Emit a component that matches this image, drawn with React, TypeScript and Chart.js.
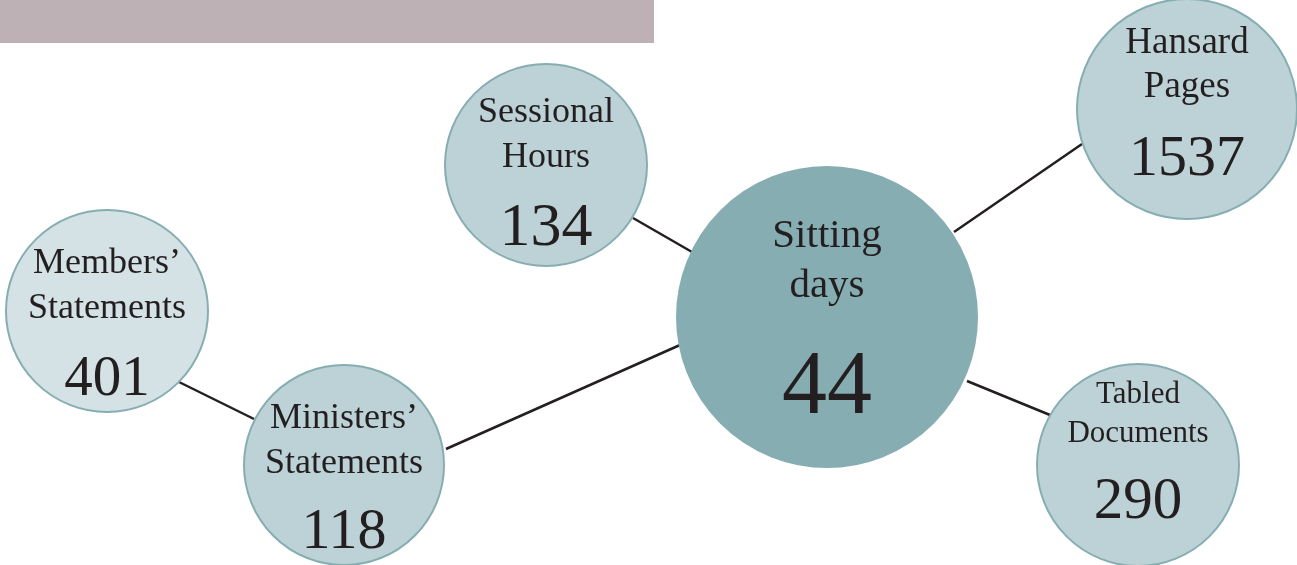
import React, { useEffect, useRef } from "react";
import { Chart, registerables } from "chart.js";

Chart.register(...registerables);

// ---- data ----
const nodeTitles: string[][] = [
  ["Sitting", "days"],
  ["Sessional", "Hours"],
  ["Hansard", "Pages"],
  ["Members’", "Statements"],
  ["Ministers’", "Statements"],
  ["Tabled", "Documents"],
];
const nodeValues: number[] = [44, 134, 1537, 401, 118, 290];
const nodeX: number[] = [827, 546, 1187, 107, 344, 1138];
const nodeY: number[] = [317, 165, 109, 311, 465, 465];
const nodeR: number[] = [150, 101, 110, 101, 100, 101];

// connectors in diagram units
const edgeFrom: number[][] = [
  [179, 382],
  [446, 449],
  [633, 218],
  [954, 232],
  [967, 381],
];
const edgeTo: number[][] = [
  [254, 419],
  [680, 345],
  [692, 252],
  [1082, 144],
  [1050, 415],
];

// ---- styles ----
const fills = ["#86adb2", "#bdd2d6", "#bdd2d6", "#d4e2e5", "#bdd2d6", "#bdd2d6"];
const borders = ["#86adb2", "#86aeb2", "#86aeb2", "#86aeb2", "#86aeb2", "#86aeb2"];
const titleSize = [41, 36, 37, 36, 36, 31];
const titleOffsets = [
  [-70, -20],
  [-43, 2],
  [-56, -12],
  [-38, 7],
  [-37, 8],
  [-62, -23],
];
const valueSize = [90, 62, 58, 57, 58, 59];
const valueOffset = [96, 80, 66, 84, 83, 53];
const TEXT = "#231f20";
const FONT = '"Liberation Serif", "DejaVu Serif", serif';

const W = 1297;
const H = 565;

export default function App() {
  const ref = useRef<HTMLCanvasElement | null>(null);

  useEffect(() => {
    if (!ref.current) return;

    const lineData: any[] = [];
    edgeFrom.forEach((f, i) => {
      lineData.push({ x: f[0], y: f[1] });
      lineData.push({ x: edgeTo[i][0], y: edgeTo[i][1] });
      lineData.push({ x: null, y: null });
    });

    const bubbleData = nodeX.map((x, i) => ({ x, y: nodeY[i], r: nodeR[i] }));

    const decor = {
      id: "decor",
      beforeDatasetsDraw(chart: any) {
        const { ctx, scales } = chart;
        const xs = scales.x;
        const ys = scales.y;
        ctx.save();
        ctx.fillStyle = "#bdb1b5";
        const x0 = xs.getPixelForValue(0);
        const x1 = xs.getPixelForValue(654);
        const y0 = ys.getPixelForValue(0);
        const y1 = ys.getPixelForValue(43);
        ctx.fillRect(x0, y0, x1 - x0, y1 - y0);
        ctx.restore();
      },
      afterDatasetsDraw(chart: any) {
        const { ctx, scales } = chart;
        const xs = scales.x;
        const ys = scales.y;
        ctx.save();
        ctx.fillStyle = TEXT;
        ctx.textAlign = "center";
        ctx.textBaseline = "alphabetic";
        nodeTitles.forEach((lines, i) => {
          const cx = xs.getPixelForValue(nodeX[i]);
          const cy = ys.getPixelForValue(nodeY[i]);
          ctx.font = `${titleSize[i]}px ${FONT}`;
          lines.forEach((t, j) => {
            ctx.fillText(t, cx, cy + titleOffsets[i][j]);
          });
          ctx.font = `${valueSize[i]}px ${FONT}`;
          ctx.fillText(String(nodeValues[i]), cx, cy + valueOffset[i]);
        });
        ctx.restore();
      },
    };

    const chart = new Chart(ref.current, {
      type: "bubble",
      data: {
        datasets: [
          {
            type: "line",
            data: lineData,
            borderColor: TEXT,
            borderWidth: 2.5,
            pointRadius: 0,
            spanGaps: false,
            fill: false,
            order: 2,
            clip: false,
          } as any,
          {
            type: "bubble",
            data: bubbleData,
            backgroundColor: fills,
            borderColor: borders,
            borderWidth: 2,
            hoverRadius: 0,
            order: 1,
            clip: false,
          } as any,
        ],
      },
      options: {
        animation: false,
        responsive: false,
        maintainAspectRatio: false,
        layout: { padding: 0, autoPadding: false } as any,
        plugins: {
          legend: { display: false },
          tooltip: { enabled: false },
        },
        scales: {
          x: { type: "linear", min: 0, max: W, display: false, grace: 0 } as any,
          y: { type: "linear", min: 0, max: H, reverse: true, display: false, grace: 0 } as any,
        },
      },
      plugins: [decor],
    });

    return () => chart.destroy();
  }, []);

  return (
    <div style={{ position: "absolute", left: 0, top: 0, width: W, height: H, background: "#ffffff" }}>
      <canvas ref={ref} width={W} height={H} style={{ width: W, height: H, display: "block" }} />
    </div>
  );
}
